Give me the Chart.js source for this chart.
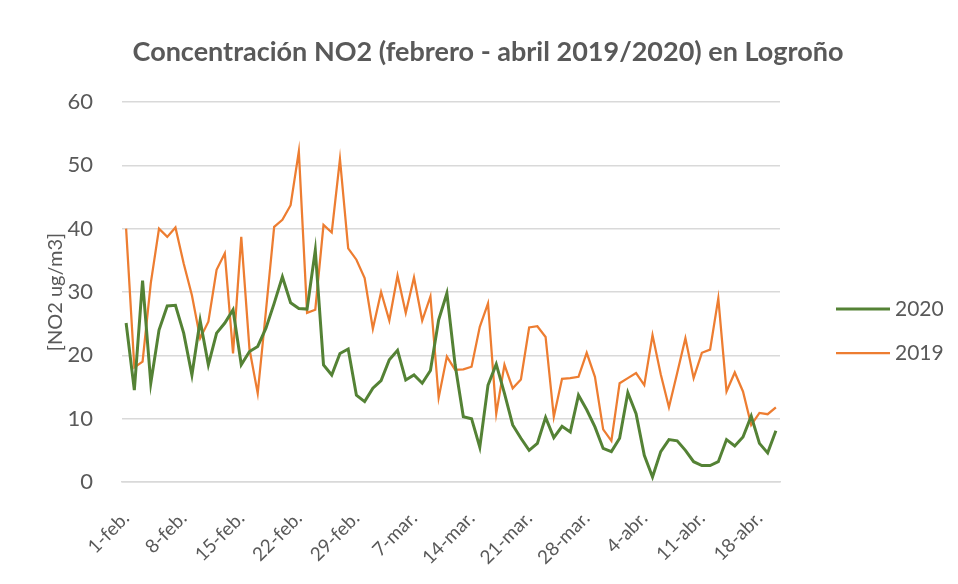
<!DOCTYPE html>
<html>
<head>
<meta charset="utf-8">
<script src="https://cdn.jsdelivr.net/npm/chart.js@4.4.1/dist/chart.umd.min.js"></script>
<style>
  html, body { margin: 0; padding: 0; background: #ffffff; }
  #wrap { width: 958px; height: 584px; position: relative; }
</style>
</head>
<body>
<div id="wrap"><canvas id="c" width="958" height="584"></canvas></div>
<script>
const categories = [
  "1-feb.","2-feb.","3-feb.","4-feb.","5-feb.","6-feb.","7-feb.","8-feb.","9-feb.","10-feb.",
  "11-feb.","12-feb.","13-feb.","14-feb.","15-feb.","16-feb.","17-feb.","18-feb.","19-feb.","20-feb.",
  "21-feb.","22-feb.","23-feb.","24-feb.","25-feb.","26-feb.","27-feb.","28-feb.","29-feb.",
  "1-mar.","2-mar.","3-mar.","4-mar.","5-mar.","6-mar.","7-mar.","8-mar.","9-mar.","10-mar.",
  "11-mar.","12-mar.","13-mar.","14-mar.","15-mar.","16-mar.","17-mar.","18-mar.","19-mar.","20-mar.",
  "21-mar.","22-mar.","23-mar.","24-mar.","25-mar.","26-mar.","27-mar.","28-mar.","29-mar.","30-mar.","31-mar.",
  "1-abr.","2-abr.","3-abr.","4-abr.","5-abr.","6-abr.","7-abr.","8-abr.","9-abr.","10-abr.",
  "11-abr.","12-abr.","13-abr.","14-abr.","15-abr.","16-abr.","17-abr.","18-abr.","19-abr.","20-abr."
];

const tickLabels = ["1-feb.","8-feb.","15-feb.","22-feb.","29-feb.","7-mar.","14-mar.","21-mar.","28-mar.","4-abr.","11-abr.","18-abr."];

const values2020 = [
  25.1,14.5,31.8,15.6,24.0,27.8,27.9,23.5,16.9,25.5,
  18.5,23.5,25.1,27.2,18.5,20.6,21.4,24.3,28.2,32.4,
  28.3,27.4,27.3,36.6,18.5,16.9,20.3,21.0,13.7,12.7,
  14.8,16.0,19.3,20.8,16.1,16.9,15.6,17.6,25.6,29.8,
  18.5,10.3,10.0,5.5,15.3,18.6,14.0,9.0,6.9,5.0,
  6.1,10.2,7.0,8.8,7.9,13.7,11.4,8.7,5.3,4.8,
  6.9,14.1,10.8,4.2,0.8,4.8,6.7,6.5,5.0,3.2,
  2.6,2.6,3.2,6.7,5.7,7.1,10.4,6.1,4.6,8.1
];

const values2019 = [
  40.0,18.1,19.0,31.4,40.0,38.7,40.2,34.5,29.5,22.7,
  25.3,33.5,36.1,20.3,38.7,21.0,14.0,27.0,40.3,41.4,
  43.7,52.2,26.7,27.2,40.6,39.4,51.0,36.9,35.1,32.2,
  24.2,30.0,25.5,32.6,26.7,32.3,25.5,29.3,13.3,19.8,
  17.7,17.8,18.2,24.5,28.2,10.8,18.5,14.8,16.2,24.4,
  24.6,22.9,10.3,16.3,16.4,16.6,20.4,16.6,8.3,6.5,
  15.6,16.4,17.2,15.3,23.2,17.0,11.8,17.2,22.7,16.4,
  20.4,20.9,29.0,14.3,17.3,14.3,9.0,10.9,10.7,11.8
];

const seriesNames = ["2020", "2019"];
const chartTitle = "Concentración NO2 (febrero - abril 2019/2020) en Logroño";
const textColor = "#595959";

const titlePlugin = {
  id: "centeredTitle",
  afterDraw(chart) {
    const ctx = chart.ctx;
    ctx.save();
    ctx.font = "bold 27px Lato";
    ctx.fillStyle = textColor;
    ctx.textAlign = "center";
    ctx.textBaseline = "middle";
    ctx.fillText(chartTitle, chart.width / 2 + 9, chart.chartArea.top - 50);
    ctx.restore();
  }
};

const legendPlugin = {
  id: "sideLegend",
  afterDraw(chart) {
    const ctx = chart.ctx;
    const area = chart.chartArea;
    const x0 = area.right + 56;
    const x1 = area.right + 110;
    const cy = (area.top + area.bottom) / 2 + 39;
    ctx.save();
    ctx.font = "21px Lato";
    ctx.textBaseline = "middle";
    ctx.textAlign = "left";
    chart.data.datasets.forEach((ds, i) => {
      const y = cy + (i === 0 ? -22 : 22);
      ctx.strokeStyle = ds.borderColor;
      ctx.lineWidth = ds.borderWidth;
      ctx.beginPath();
      ctx.moveTo(x0, y);
      ctx.lineTo(x1, y);
      ctx.stroke();
      ctx.fillStyle = textColor;
      ctx.fillText(ds.label, x1 + 5, y);
    });
    ctx.restore();
  }
};

new Chart(document.getElementById("c"), {
  type: "line",
  data: {
    labels: categories,
    datasets: [
      { label: seriesNames[0], data: values2020, borderColor: "#548235", backgroundColor: "#548235", borderWidth: 3, pointRadius: 0, tension: 0 },
      { label: seriesNames[1], data: values2019, borderColor: "#ED7D31", backgroundColor: "#ED7D31", borderWidth: 2.25, pointRadius: 0, tension: 0 }
    ]
  },
  options: {
    responsive: false,
    animation: false,
    layout: { padding: { left: 0, right: 178, top: 102, bottom: 0 } },
    plugins: {
      legend: { display: false },
      tooltip: { enabled: false },
      title: { display: false }
    },
    scales: {
      x: {
        type: "category",
        offset: true,
        grid: { display: false, drawTicks: false },
        border: { display: true, color: "#d9d9d9", width: 1.5 },
        ticks: {
          autoSkip: false,
          maxRotation: 45,
          minRotation: 45,
          padding: 25,
          color: textColor,
          font: { family: "Lato", size: 19 },
          callback: function (value, index) {
            const lab = categories[index];
            return tickLabels.includes(lab) ? lab : "";
          }
        },
        afterFit(scale) { scale.height = 102; }
      },
      y: {
        min: 0,
        max: 60,
        grid: { color: "#d9d9d9", lineWidth: 1.5, drawTicks: false },
        border: { display: false },
        ticks: {
          stepSize: 10,
          padding: 29,
          color: textColor,
          font: { family: "Lato", size: 22 }
        },
        title: {
          display: true,
          text: "[NO2 ug/m3]",
          color: textColor,
          font: { family: "Lato", size: 20 },
          padding: { top: 44, bottom: 0 }
        },
        afterFit(scale) { scale.width = 122; }
      }
    }
  },
  plugins: [titlePlugin, legendPlugin]
});
</script>
</body>
</html>
